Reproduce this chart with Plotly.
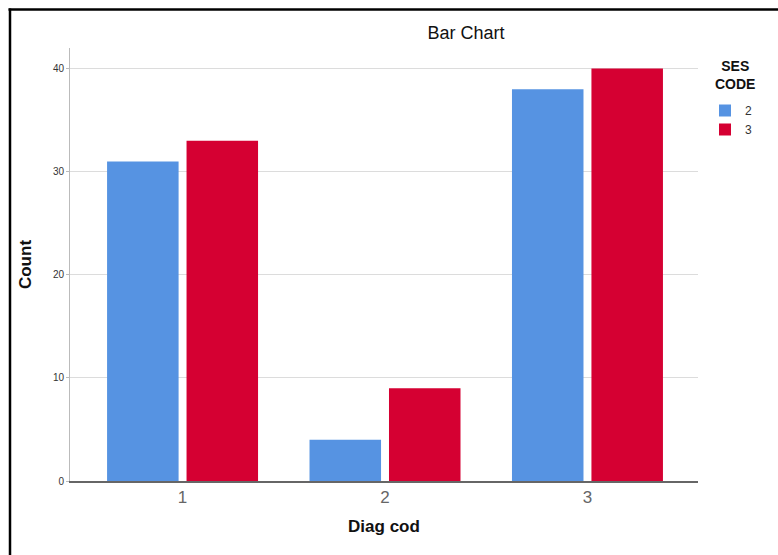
import plotly.graph_objects as go

categories = ["1", "2", "3"]
series_names = ["2", "3"]
values_ses2 = [31, 4, 38]
values_ses3 = [33, 9, 40]
y_ticks = [0, 10, 20, 30, 40]

FONT = "Arial, 'Liberation Sans', sans-serif"
BLUE = "#5693E2"
RED = "#D50032"

xpos = list(range(len(categories)))

W, H = 778, 555
L, T = 70, 48
R = W - 698
B = H - 481
pw, ph = W - L - R, H - T - B

def px_x(px):
    return (px - L) / pw

def px_y(py):
    return (H - B - py) / ph

fig = go.Figure()
fig.add_trace(go.Bar(x=xpos, y=values_ses2, name=series_names[0],
                     marker=dict(color=BLUE, line=dict(width=0))))
fig.add_trace(go.Bar(x=xpos, y=values_ses3, name=series_names[1],
                     marker=dict(color=RED, line=dict(width=0))))

fig.update_layout(
    width=W, height=H,
    margin=dict(l=L, r=R, t=T, b=B, pad=0),
    paper_bgcolor="white", plot_bgcolor="white",
    barmode="group", bargap=0.215, bargroupgap=0.10,
    font=dict(family=FONT, color="#222"),
    title=dict(text="Bar Chart", x=466 / W, xanchor="center",
               y=1 - 33 / H, yanchor="middle",
               font=dict(size=18, color="#111")),
    xaxis=dict(range=[-0.556, 2.546], tickmode="array", tickvals=xpos,
               ticktext=categories, showgrid=False, zeroline=False,
               showline=True, linecolor="#666", linewidth=1.5,
               ticks="", tickfont=dict(size=17, color="#666"),
               title=dict(text="<b>Diag cod</b>", font=dict(size=17, color="#111"),
                          standoff=14)),
    yaxis=dict(range=[0, 42], tickmode="array", tickvals=y_ticks,
               ticktext=[str(v) for v in y_ticks],
               showgrid=True, gridcolor="#DCDCDC", gridwidth=1, zeroline=False,
               showline=True, linecolor="#BBBBBB", linewidth=1,
               ticks="outside", ticklen=3, tickcolor="#BBBBBB",
               tickfont=dict(size=10, color="#333"),
               title=dict(text="<b>Count</b>", font=dict(size=17, color="#111"),
                          standoff=16)),
    legend=dict(x=px_x(705), y=px_y(96), xanchor="left", yanchor="top",
                font=dict(size=12, color="#333"), bgcolor="rgba(0,0,0,0)",
                itemwidth=30, tracegroupgap=0),
    annotations=[dict(text="<b>SES<br>CODE</b>", xref="paper", yref="paper",
                      x=px_x(735), y=px_y(75), xanchor="center", yanchor="middle",
                      showarrow=False, align="center",
                      font=dict(size=14, color="#111"))],
    shapes=[
        dict(type="line", xref="paper", yref="paper",
             x0=px_x(10), x1=px_x(10), y0=px_y(8.5), y1=px_y(560),
             line=dict(color="black", width=2.5)),
        dict(type="line", xref="paper", yref="paper",
             x0=px_x(8.5), x1=px_x(785), y0=px_y(9.5), y1=px_y(9.5),
             line=dict(color="black", width=2.5)),
    ],
)

fig.write_html(
    "out.html",
    config={"displayModeBar": False},
    post_script="document.body.style.margin='0';"
                "document.documentElement.style.overflow='hidden';"
                "document.body.style.overflow='hidden';",
)
